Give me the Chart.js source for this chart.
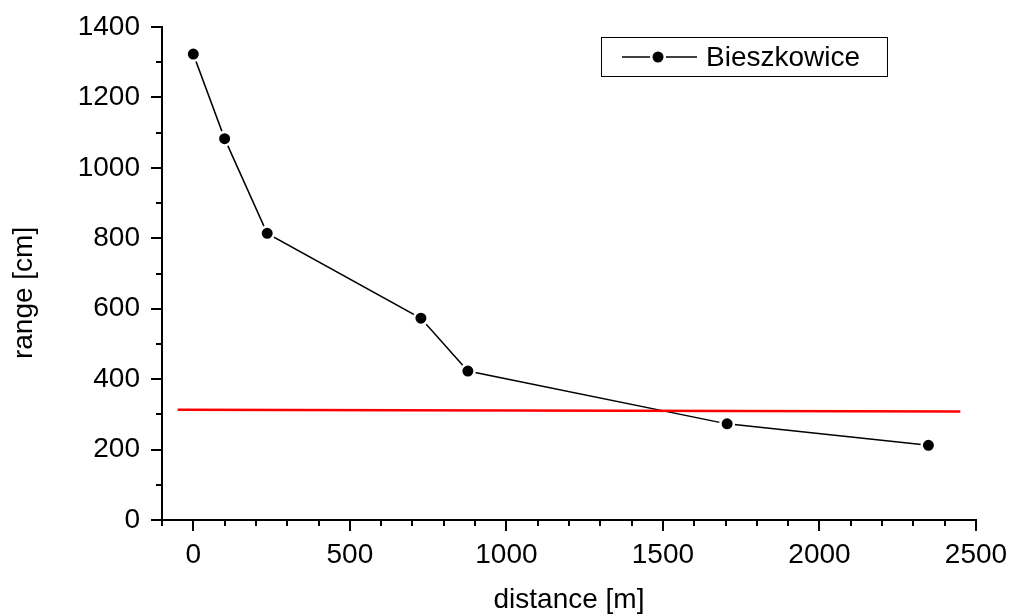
<!DOCTYPE html>
<html>
<head>
<meta charset="utf-8">
<script src="https://cdn.jsdelivr.net/npm/chart.js@4/dist/chart.umd.min.js"></script>
<style>
  body { margin: 0; background: #fff; }
</style>
</head>
<body>
<canvas id="chart" width="1010" height="614"></canvas>
<script>
// values
const distance = [0, 100, 236, 727, 877, 1705, 2348];
const range = [1323, 1083, 814, 573, 423, 273, 212];
const limitX = [-50, 2450];
const limitY = [313, 308];
const seriesName = "Bieszkowice";

const FONT = "'Liberation Sans', Arial, sans-serif";
Chart.defaults.color = "#000";
Chart.defaults.font.family = FONT;

const toPoints = (xs, ys) => xs.map((x, i) => ({ x, y: ys[i] }));

// tick marks drawn by hand: long ones for labelled values, short for minor
const tickMarks = {
  id: "tickMarks",
  afterDraw(chart) {
    const ctx = chart.ctx;
    ctx.save();
    ctx.strokeStyle = "#000";
    ctx.lineWidth = 2;
    const xs = chart.scales.x;
    xs.ticks.forEach((t) => {
      const px = Math.round(xs.getPixelForValue(t.value));
      const len = t.value % 500 === 0 ? 11 : 6;
      ctx.beginPath();
      ctx.moveTo(px, xs.top);
      ctx.lineTo(px, xs.top + len);
      ctx.stroke();
    });
    const ys = chart.scales.y;
    ys.ticks.forEach((t) => {
      const py = Math.round(ys.getPixelForValue(t.value));
      const len = t.value % 200 === 0 ? 11 : 6;
      ctx.beginPath();
      ctx.moveTo(ys.right, py);
      ctx.lineTo(ys.right - len, py);
      ctx.stroke();
    });
    ctx.restore();
  },
};

// boxed legend inside the plot, like the original
const boxLegend = {
  id: "boxLegend",
  afterDraw(chart) {
    const ctx = chart.ctx;
    const area = chart.chartArea;
    const x0 = area.left + 439, y0 = area.top + 10;
    const w = 286, h = 39;
    const ds = chart.data.datasets.find((d) => d.label === seriesName);
    ctx.save();
    ctx.strokeStyle = "#000";
    ctx.lineWidth = 1;
    ctx.strokeRect(x0 + 0.5, y0 + 0.5, w, h);
    const cy = y0 + 20;
    ctx.lineWidth = 1.5;
    ctx.beginPath();
    ctx.moveTo(x0 + 21, cy);
    ctx.lineTo(x0 + 96, cy);
    ctx.stroke();
    ctx.beginPath();
    ctx.arc(x0 + 57, cy, ds.pointRadius, 0, Math.PI * 2);
    ctx.fillStyle = ds.pointBackgroundColor;
    ctx.fill();
    ctx.lineWidth = ds.pointBorderWidth;
    ctx.strokeStyle = ds.pointBorderColor;
    ctx.stroke();
    ctx.fillStyle = "#000";
    ctx.font = "28px " + FONT;
    ctx.textBaseline = "middle";
    ctx.fillText(ds.label, x0 + 105, cy + 1);
    ctx.restore();
  },
};

new Chart(document.getElementById("chart"), {
  type: "scatter",
  data: {
    datasets: [
      {
        label: seriesName,
        data: toPoints(distance, range),
        showLine: true,
        borderColor: "#000",
        borderWidth: 1.5,
        pointRadius: 6.75,
        pointHoverRadius: 6.75,
        pointBackgroundColor: "#000",
        pointBorderColor: "#fff",
        pointBorderWidth: 2.5,
        order: 1,
      },
      {
        label: "limit",
        data: toPoints(limitX, limitY),
        showLine: true,
        borderColor: "#ff0000",
        borderWidth: 2.5,
        pointRadius: 0,
        order: 0,
      },
    ],
  },
  options: {
    responsive: false,
    animation: false,
    layout: { padding: { top: 27, right: 34, left: 0, bottom: 0 } },
    plugins: { legend: { display: false }, tooltip: { enabled: false } },
    scales: {
      x: {
        type: "linear",
        min: -100,
        max: 2500,
        afterFit: (s) => {
          s.height = 94;
          s.paddingLeft = 0;
          s.paddingRight = 0;
        },
        border: { display: true, color: "#000", width: 2 },
        grid: { display: false, drawTicks: false },
        ticks: {
          stepSize: 100,
          autoSkip: false,
          maxRotation: 0,
          padding: 18,
          font: { size: 28 },
          callback: (v) => (v % 500 === 0 ? v : ""),
        },
        title: {
          display: true,
          text: "distance [m]",
          font: { size: 28, lineHeight: 1 },
          padding: { top: 0, bottom: 0 },
        },
      },
      y: {
        type: "linear",
        min: 0,
        max: 1400,
        afterFit: (s) => {
          s.width = 162;
          s.paddingTop = 0;
          s.paddingBottom = 0;
        },
        border: { display: true, color: "#000", width: 2 },
        grid: { display: false, drawTicks: false },
        ticks: {
          stepSize: 100,
          autoSkip: false,
          padding: 22,
          font: { size: 28 },
          callback: (v) => (v % 200 === 0 ? v : ""),
        },
        title: {
          display: true,
          // trailing spaces push the title a bit lower, as in the original
          text: "range [cm]" + "\u00a0".repeat(5),
          font: { size: 28, lineHeight: 1 },
          padding: { top: 10, bottom: 0 },
        },
      },
    },
  },
  plugins: [tickMarks, boxLegend],
});
</script>
</body>
</html>
